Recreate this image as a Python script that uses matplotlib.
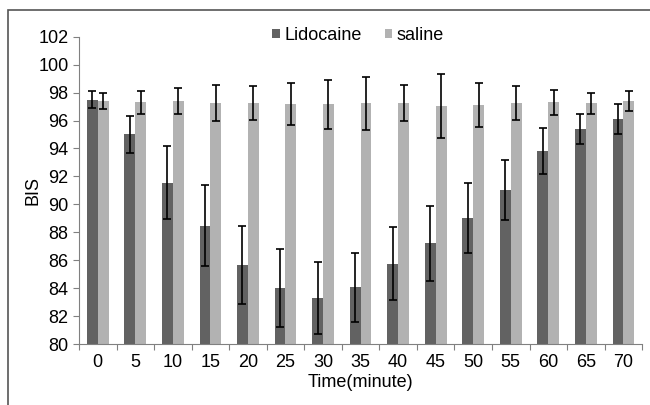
import numpy as np
import matplotlib.pyplot as plt
from matplotlib.patches import Rectangle

plt.rcParams['font.family'] = ['Liberation Sans', 'DejaVu Sans']

times = ['0', '5', '10', '15', '20', '25', '30', '35', '40', '45', '50', '55', '60', '65', '70']
lidocaine = [97.5, 95.0, 91.55, 88.45, 85.65, 84.0, 83.3, 84.05, 85.75, 87.2, 89.0, 91.0, 93.8, 95.4, 96.1]
lidocaine_err = [0.6, 1.3, 2.6, 2.9, 2.8, 2.8, 2.6, 2.45, 2.6, 2.7, 2.5, 2.15, 1.65, 1.05, 1.1]
saline = [97.4, 97.3, 97.4, 97.25, 97.25, 97.15, 97.15, 97.25, 97.25, 97.05, 97.1, 97.25, 97.3, 97.25, 97.4]
saline_err = [0.6, 0.8, 0.9, 1.3, 1.2, 1.5, 1.75, 1.9, 1.3, 2.3, 1.6, 1.2, 0.9, 0.75, 0.7]

fig = plt.figure(figsize=(6.5, 4.05), dpi=100)
ax = fig.add_axes([0.1215, 0.1506, 0.8665, 0.7588])

x = np.arange(len(times))
w = 0.29
ekw = dict(ecolor='black', elinewidth=1.2, capsize=3, capthick=1.2)
ax.bar(x - w / 2, lidocaine, w, yerr=lidocaine_err, color='#626262', label='Lidocaine', error_kw=ekw)
ax.bar(x + w / 2, saline, w, yerr=saline_err, color='#b2b2b2', label='saline', error_kw=ekw)

ax.set_ylim(80, 102)
ax.set_yticks(range(80, 103, 2))
ax.set_xlim(-0.5, len(times) - 0.5)
ax.set_xticks(np.arange(-0.5, len(times), 1))
ax.set_xticklabels([])
ax.set_xticks(x, minor=True)
ax.set_xticklabels(times, minor=True)
ax.tick_params(axis='x', which='major', length=4, color='#808080')
ax.tick_params(axis='x', which='minor', length=0, labelsize=13, pad=7)
ax.tick_params(axis='y', length=4, color='#808080', labelsize=13)

for s in ['top', 'right']:
    ax.spines[s].set_visible(False)
for s in ['left', 'bottom']:
    ax.spines[s].set_color('#808080')

ax.set_ylabel('BIS', fontsize=13, labelpad=-2)
ax.set_xlabel('Time(minute)', fontsize=13, labelpad=2)

fig.legend(loc='center left', bbox_to_anchor=(0.405, 0.913), ncol=2, frameon=False, fontsize=13,
           borderpad=0, handlelength=0.4, handleheight=0.4, handletextpad=0.25, columnspacing=1.3)

fig.patches.append(Rectangle((0.0125, -0.1), 1.1, 1.075, transform=fig.transFigure,
                             fill=False, edgecolor='#555555', linewidth=1.2))

fig.savefig('out.png')
